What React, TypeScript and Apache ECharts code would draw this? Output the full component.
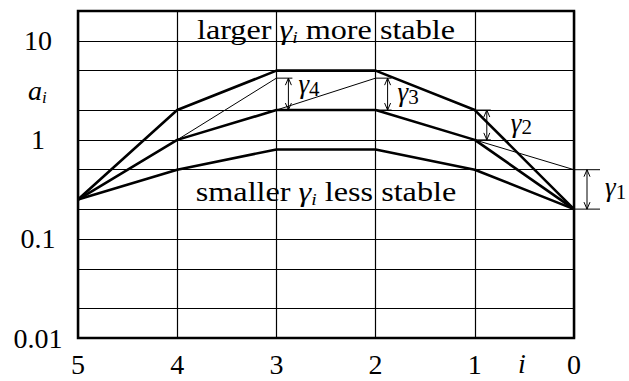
import React, { useEffect, useRef } from 'react';
import * as echarts from 'echarts';

// Stage index i, plotted from 5 down to 0
const steps = [5, 4, 3, 2, 1, 0];
// Coefficient profiles a_i for three stability margins
const upperA = [0.25, 2, 5, 5, 2, 0.2];
const middleA = [0.25, 1, 2, 2, 1, 0.2];
const lowerA = [0.25, 0.5, 0.8, 0.8, 0.5, 0.2];
// Thin guide segments [[i, a], [i, a]]
const guideSegments = [
  [[4, 1], [3, 4.2]],
  [[3, 2], [2, 4.2]],
  [[1, 1], [0, 0.5]],
];
// γ arrows: [i, low a, high a, γ index]
const gammaArrows = [
  [3, 2, 4.2, 4],
  [2, 2, 4.2, 3],
  [1, 1, 2, 2],
  [0, 0.2, 0.5, 1],
];
// Extra horizontal rules between decades
const extraGridLevels = [0.02, 0.05, 0.2, 0.5, 2, 5];
// Decade tick labels on the a_i axis
const yTicks = [0.01, 0.1, 1, 10];

const SERIF = 'Liberation Serif';
const labelDx: Record<number, number> = { 4: 10, 3: 10, 2: 24, 1: 18 };
const labelDy: Record<number, number> = { 4: -8, 3: 0, 2: 0, 1: 0 };

export default function App() {
  const ref = useRef<HTMLDivElement>(null);

  useEffect(() => {
    if (!ref.current) return;
    const chart = echarts.init(ref.current, undefined, { renderer: 'svg' });

    const boldLine = (name: string, values: number[]) => ({
      name,
      type: 'line',
      data: steps.map((s, k) => [s, values[k]]),
      symbol: 'none',
      lineStyle: { color: '#000', width: 2.6 },
      z: 5,
    });

    const subRich = { fontStyle: 'italic', fontSize: 17, lineHeight: 12, verticalAlign: 'bottom', fontFamily: SERIF };

    const banner = (text: string, y: number) => ({
      type: 'text',
      x: 326,
      y,
      scaleX: 1.15,
      style: {
        text,
        fill: '#000',
        fontFamily: SERIF,
        fontSize: 28,
        lineHeight: 32,
        align: 'center',
        verticalAlign: 'middle',
        rich: {
          g: { fontStyle: 'italic', fontSize: 28, lineHeight: 32, fontFamily: SERIF },
          s: subRich,
        },
      },
      z: 10,
    });

    const option: any = {
      animation: false,
      backgroundColor: '#fff',
      textStyle: { fontFamily: SERIF },
      grid: {
        left: 78,
        right: 55,
        top: 11,
        bottom: 43,
        show: true,
        borderColor: '#000',
        borderWidth: 2.5,
        backgroundColor: 'transparent',
      },
      xAxis: {
        type: 'value',
        min: 0,
        max: 5,
        interval: 1,
        inverse: true,
        axisLine: { show: false },
        axisTick: { show: false },
        axisLabel: {
          color: '#000',
          fontFamily: SERIF,
          fontSize: 28,
          margin: 12,
        },
        splitLine: { show: true, lineStyle: { color: '#000', width: 1.2 } },
      },
      yAxis: {
        type: 'log',
        logBase: 10,
        min: 0.01,
        max: 20,
        axisLine: { show: false },
        axisTick: { show: false },
        axisLabel: {
          color: '#000',
          fontFamily: SERIF,
          fontSize: 28,
          align: 'center',
          margin: 40,
          formatter: (v: number) => {
            const r = Number(Number(v).toPrecision(6));
            return yTicks.includes(r) ? String(r) : '';
          },
        },
        splitLine: { show: true, lineStyle: { color: '#000', width: 1.2 } },
      },
      series: [
        {
          type: 'line',
          data: [],
          symbol: 'none',
          markLine: {
            silent: true,
            symbol: ['none', 'none'],
            label: { show: false },
            lineStyle: { color: '#000', width: 1.2, type: 'solid' },
            data: extraGridLevels.map((v) => ({ yAxis: v })),
          },
        },
        boldLine('upper', upperA),
        boldLine('middle', middleA),
        boldLine('lower', lowerA),
        ...guideSegments.map((seg) => ({
          type: 'line',
          data: seg,
          symbol: 'none',
          lineStyle: { color: '#000', width: 1 },
          z: 4,
        })),
        {
          type: 'custom',
          data: gammaArrows,
          clip: false,
          z: 6,
          renderItem: (_params: any, api: any) => {
            const i = api.value(0);
            const lo = api.value(1);
            const hi = api.value(2);
            const n = api.value(3);
            const pLo = api.coord([i, lo]);
            const pHi = api.coord([i, hi]);
            const outside = i === 0;
            const ax = pLo[0] + (outside ? 13 : 12);
            const lead = outside ? 26 : 16;
            const ls = { stroke: '#000', lineWidth: 1, fill: 'none' };
            const mid = (pLo[1] + pHi[1]) / 2;
            return {
              type: 'group',
              children: [
                { type: 'line', shape: { x1: pHi[0], y1: pHi[1], x2: pHi[0] + lead, y2: pHi[1] }, style: ls },
                { type: 'line', shape: { x1: pLo[0], y1: pLo[1], x2: pLo[0] + lead, y2: pLo[1] }, style: ls },
                { type: 'line', shape: { x1: ax, y1: pHi[1], x2: ax, y2: pLo[1] }, style: ls },
                {
                  type: 'polyline',
                  shape: { points: [[ax - 3, pHi[1] + 7], [ax, pHi[1]], [ax + 3, pHi[1] + 7]] },
                  style: ls,
                },
                {
                  type: 'polyline',
                  shape: { points: [[ax - 3, pLo[1] - 7], [ax, pLo[1]], [ax + 3, pLo[1] - 7]] },
                  style: ls,
                },
                {
                  type: 'text',
                  x: ax + labelDx[n],
                  y: mid - 2 + labelDy[n],
                  style: {
                    text: `{g|γ}{n|${n}}`,
                    fill: '#000',
                    fontFamily: SERIF,
                    fontSize: 27,
                    lineHeight: 30,
                    align: 'left',
                    verticalAlign: 'middle',
                    rich: {
                      g: { fontStyle: 'italic', fontSize: 27, lineHeight: 30, fontFamily: SERIF },
                      n: { fontSize: 21, lineHeight: 18, verticalAlign: 'bottom', fontFamily: SERIF },
                    },
                  },
                },
              ],
            };
          },
        },
      ],
      graphic: [
        banner('larger {g|γ}{s|i} more stable', 30),
        banner('smaller {g|γ}{s|i} less stable', 192),
        {
          type: 'text',
          x: 28,
          y: 90,
          style: {
            text: '{a|a}{s|i}',
            fill: '#000',
            fontFamily: SERIF,
            fontSize: 28,
            lineHeight: 32,
            align: 'left',
            verticalAlign: 'middle',
            rich: {
              a: { fontStyle: 'italic', fontSize: 28, lineHeight: 32, fontFamily: SERIF },
              s: subRich,
            },
          },
        },
        {
          type: 'text',
          x: 522,
          y: 363,
          style: {
            text: 'i',
            fill: '#000',
            fontFamily: SERIF,
            fontStyle: 'italic',
            fontSize: 28,
            align: 'center',
            verticalAlign: 'middle',
          },
        },
      ],
    };

    chart.setOption(option);
    return () => chart.dispose();
  }, []);

  return (
    <div
      ref={ref}
      style={{ position: 'fixed', left: 0, top: 0, width: 629, height: 381, background: '#fff' }}
    />
  );
}
